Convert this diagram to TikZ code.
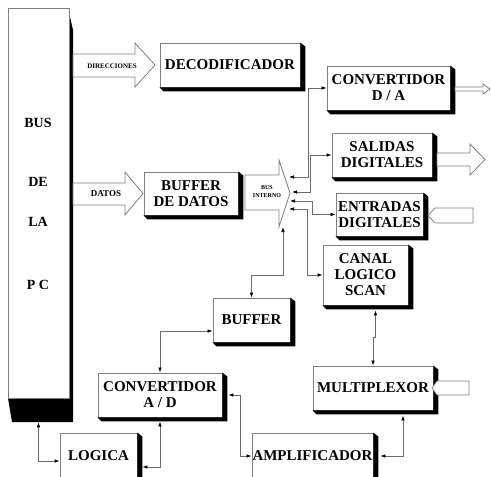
\documentclass[tikz,border=0pt]{standalone}
\usepackage{fontspec}
\setmainfont{Liberation Serif}
\usetikzlibrary{arrows.meta,calc}
\tikzset{
  blk/.style={draw=gray, line width=0.8pt, fill=white, inner sep=0pt, align=center,
    font=\fontsize{15}{16}\selectfont\bfseries},
  buslbl/.style={inner sep=0pt, font=\fontsize{14}{16}\selectfont\bfseries},
  fat/.style={draw=gray, line width=0.8pt, fill=white},
  tipk/.tip={Latex[length=5pt,width=3.6pt,color=black]},
  conn/.style={draw=gray!85!black, line width=0.7pt, tipk-tipk},
}
\newcommand\boxshadow[1]{%
  \fill[black] (#1.north east) -- ($(#1.north east)+(5,4)$) -- ($(#1.south east)+(5,4)$)
    -- ($(#1.south west)+(4,4)$) -- (#1.south west) -- (#1.south east) -- cycle;}
\begin{document}
\begin{tikzpicture}[x=1pt,y=-1pt]
\useasboundingbox[fill=white] (0,0) rectangle (491,477);

% --- BUS DE LA PC ---
\fill[black] (68,8) -- (73,30) -- (73,422) -- (12,422) -- (8,398) -- (68,398) -- cycle;
\node[draw=gray, line width=0.8pt, fill=white, minimum width=61pt, minimum height=390pt, inner sep=0pt] (bus) at (38.5,203) {};
\node[buslbl] (b1) at (38,123) {BUS};
\node[buslbl] (b2) at (38,182) {DE};
\node[buslbl] (b3) at (38,222) {LA};
\node[buslbl] (b4) at (38,285) {P C};

% --- boxes ---
\node[blk, minimum width=140pt, minimum height=44pt] (dec) at (230,65) {DECODIFICADOR};
\node[blk, minimum width=94pt, minimum height=43pt] (bdd) at (191,193.5) {BUFFER\\DE DATOS};
\node[blk, minimum width=123pt, minimum height=44pt] (da) at (388.5,88) {CONVERTIDOR\\D / A};
\node[blk, minimum width=100pt, minimum height=44pt] (sal) at (382,155) {SALIDAS\\DIGITALES};
\node[blk, minimum width=87pt, minimum height=43pt] (ent) at (379.5,214.5) {ENTRADAS\\DIGITALES};
\node[blk, minimum width=85pt, minimum height=60pt] (can) at (365.5,275) {CANAL\\LOGICO\\SCAN};
\node[blk, minimum width=77pt, minimum height=44pt] (buf) at (251.5,320) {BUFFER};
\node[blk, minimum width=124pt, minimum height=44pt] (ad) at (160,395) {CONVERTIDOR\\A / D};
\node[blk, minimum width=120pt, minimum height=44pt] (mux) at (373,388) {MULTIPLEXOR};
\node[blk, minimum width=77pt, minimum height=46pt] (log) at (98.5,456) {LOGICA};
\node[blk, minimum width=121pt, minimum height=46pt] (amp) at (312.5,456) {AMPLIFICADOR};

\foreach \n in {dec,bdd,da,sal,ent,can,buf,ad,mux,log,amp} {\boxshadow{\n}}

% --- fat arrows ---
\draw[fat] (73,54) -- (135,54) -- (135,43) -- (155,65) -- (135,87) -- (135,77) -- (73,77) -- cycle;
\node[inner sep=0pt, font=\fontsize{7}{8}\selectfont\bfseries] (dir) at (112,66) {DIRECCIONES};
\draw[fat] (73,183) -- (125,183) -- (125,172) -- (143,193.5) -- (125,215) -- (125,205) -- (73,205) -- cycle;
\node[inner sep=0pt, font=\fontsize{9}{10}\selectfont\bfseries] (dat) at (106,194) {DATOS};
\draw[fat] (245,175) -- (279,175) -- (279,160) -- (290,193) -- (279,227) -- (279,210) -- (245,210) -- cycle;
\node[inner sep=0pt, align=center, font=\fontsize{6}{8}\selectfont\bfseries] (bi) at (267,192) {BUS\\INTERNO};

% outputs / inputs
\draw[fat] (455,87) -- (483,87) -- (483,84) -- (490,89) -- (483,94) -- (483,91) -- (455,91) -- cycle;
\draw[fat] (437,153) -- (470,153) -- (470,144) -- (485,159.5) -- (470,175) -- (470,166) -- (437,166) -- cycle;
\draw[fat] (473,208) -- (435,208) -- (428,215.5) -- (435,223) -- (473,223) -- cycle;
\draw[fat] (469,381) -- (437,381) -- (432,388) -- (437,395) -- (469,395) -- cycle;

% --- connectors ---
\coordinate (bi1) at (289,177);
\coordinate (bi2) at (292,192);
\coordinate (bi3) at (290,201);
\coordinate (bi4) at (289,209);
\coordinate (bi5) at (283,227);
\draw[conn] (bi1) -- ++(19,0) |- (da.west);
\draw[conn] (bi2) -- ++(18,0) |- (sal.west);
\draw[conn] (bi3) -- ++(22,0) |- (ent.west);
\draw[conn] (bi4) -- ++(18,0) |- (can.west);
\draw[conn] (bi5) -- ++(0,48) -| (buf.north);
\draw[conn] ([yshift=-11pt]buf.west) -| (ad.north);
\draw[conn] ([yshift=-4pt]ad.south) |- ([xshift=5pt,yshift=-11pt]log.east);
\draw[conn] ([yshift=-24pt]bus.south) |- ([yshift=-5pt]log.west);
\draw[conn] ([xshift=6pt]ad.east) -- ++(12,0) |- (amp.west);
\draw[conn] ([xshift=7pt]amp.east) -| ([xshift=30pt,yshift=-5pt]mux.south);
\draw[conn] ([xshift=10pt,yshift=-5pt]can.south) -- ++(0,27) -| (mux.north);
\end{tikzpicture}
\end{document}
